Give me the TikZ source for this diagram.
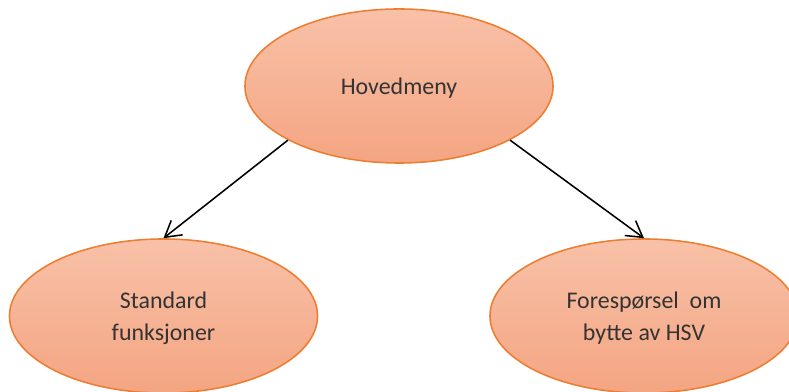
\documentclass[tikz,border=0pt]{standalone}
\usepackage{fontspec}
\setmainfont{Carlito}
\usetikzlibrary{shapes.geometric, arrows.meta}

\definecolor{bubtop}{HTML}{F8C1A8}
\definecolor{bubbot}{HTML}{F4A582}
\definecolor{bubline}{HTML}{ED7D31}

\begin{document}
\begin{tikzpicture}[x=0.025cm, y=0.025cm,
    bubble/.style={ellipse, draw=bubline, line width=1.1pt, top color=bubtop, bottom color=bubbot,
      minimum width=7.7cm, minimum height=3.85cm, align=center, text=black!80, text depth=0pt,
      font=\fontsize{17}{22.5}\selectfont},
    link/.style={-{Straight Barb[length=3.9mm, width=4.6mm]}, line width=1.1pt}]
  \useasboundingbox (0,0) rectangle (789,392);
  \node[bubble] (menu) at (399,306) {Hovedmeny};
  \node[bubble] (std) at (163.5,76) {Standard\\funksjoner};
  \node[bubble] (hsv) at (644,76) {Forespørsel\ \ om\\bytte av HSV};
  \draw[link] (menu.206) -- (std.north);
  \draw[link] (menu.334) -- (hsv.north);
\end{tikzpicture}
\end{document}
